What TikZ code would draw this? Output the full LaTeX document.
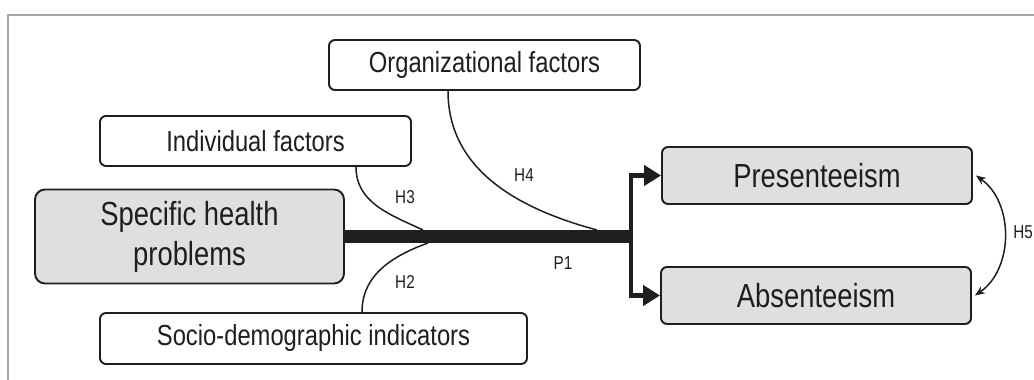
\documentclass[tikz,border=0pt]{standalone}
\usepackage{fontspec}
\setmainfont{Liberation Sans}[FakeStretch=0.82]
\usetikzlibrary{arrows.meta}
\definecolor{boxgray}{HTML}{DFDFE1}
\definecolor{ink}{HTML}{1E1E1E}

\begin{document}
\begin{tikzpicture}[
        factor/.style={rectangle, draw=ink, line width=1.1pt, rounded corners=1.2mm, minimum width=6.22cm, minimum height=1cm, align=center, text=ink, font=\fontsize{16.5}{19}\selectfont},
        outcome/.style={factor, fill=boxgray, minimum width=6.2cm, minimum height=1.14cm, font=\fontsize{19}{22.8}\selectfont},
        hyp/.style={ink, line width=0.85pt},
        lbl/.style={inner sep=0pt, text=ink, font=\fontsize{10.6}{12}\selectfont},
        bus/.style={ink, line width=7.4pt},
        branch/.style={ink, line width=2.8pt, -{Triangle[length=3.4mm,width=4mm]}}
    ]
        \useasboundingbox (0,0) rectangle (20.68,7.6);

        % Frame
        \draw[gray!70, line width=1.1pt] (0.16,0) -- (0.16,7.3) -- (20.68,7.3);

        % Factors
        \node[factor] (org) at (9.69,6.30) {Organizational factors};
        \node[factor] (ind) at (5.11,4.78) {Individual factors};
        \node[factor, minimum width=8.54cm, minimum height=1.02cm] (soc) at (6.27,0.83) {Socio-demographic indicators};

        % Health problems
        \node[outcome, rounded corners=2mm, minimum width=6.18cm, minimum height=1.88cm] (shp) at (3.79,2.87) {Specific health\\problems};

        % Outcomes
        \node[outcome] (pre) at (16.34,4.09) {Presenteeism};
        \node[outcome] (abs) at (16.32,1.69) {Absenteeism};

        % Path P1
        \coordinate (split) at (12.62,2.87);
        \draw[bus] (shp) -- (split);
        \draw[branch] (split) |- (pre);
        \draw[branch] (split) |- (abs);

        % Moderators
        \coordinate (h3end) at (8.46,3.0);
        \coordinate (h2end) at (8.56,2.74);
        \coordinate (h4end) at (11.94,3.0);
        \draw[hyp] ([xshift=2.01cm]ind.south) to[out=-90, in=155] (h3end);
        \draw[hyp] ([xshift=0.97cm]soc.north) to[out=90, in=-160] (h2end);
        \draw[hyp] ([xshift=-0.73cm]org.south) to[out=-90, in=165] (h4end);
        \draw[hyp, {Stealth[length=2mm,width=1.6mm]}-{Stealth[length=2mm,width=1.6mm]}] ([xshift=0.6mm]pre.east) to[bend left=55] ([xshift=0.6mm]abs.east);

        % Labels
        \node[lbl] (lh3) at (8.10,3.66) {H3};
        \node[lbl] (lh2) at (8.10,1.96) {H2};
        \node[lbl] (lh4) at (10.48,4.10) {H4};
        \node[lbl] (lp1) at (11.26,2.34) {P1};
        \node[lbl] (lh5) at (20.46,2.96) {H5};
    \end{tikzpicture}
\end{document}
